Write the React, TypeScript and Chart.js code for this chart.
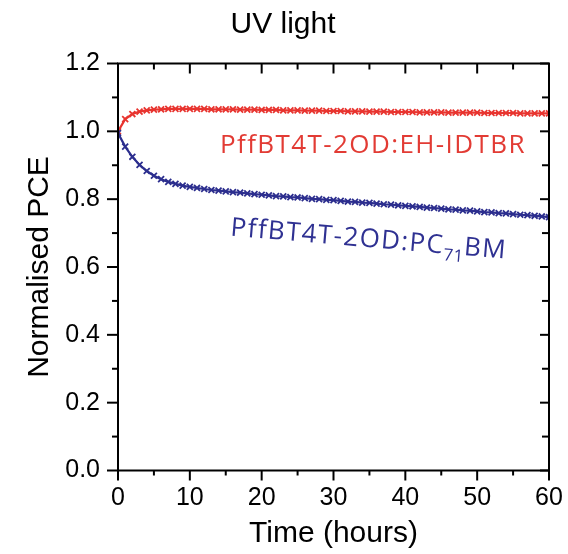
import { useEffect, useRef } from "react";
import { Chart, registerables } from "chart.js";

Chart.register(...registerables);

const chartTitle = "UV light";
const xAxisTitle = "Time (hours)";
const yAxisTitle = "Normalised PCE";

const hours = [
  0, 1, 2, 3, 4, 5, 6, 7, 8, 9, 10, 11, 12, 13, 14, 15, 16, 17, 18, 19, 20,
  21, 22, 23, 24, 25, 26, 27, 28, 29, 30, 31, 32, 33, 34, 35, 36, 37, 38, 39, 40,
  41, 42, 43, 44, 45, 46, 47, 48, 49, 50, 51, 52, 53, 54, 55, 56, 57, 58, 59, 60,
];

const ehIdtbrPce = [
  1.0, 1.036, 1.051, 1.058, 1.062, 1.064, 1.065, 1.066, 1.066, 1.066, 1.066,
  1.066, 1.066, 1.065, 1.065, 1.065, 1.065, 1.064, 1.064, 1.064, 1.063,
  1.063, 1.063, 1.062, 1.062, 1.062, 1.061, 1.061, 1.061, 1.06, 1.06,
  1.06, 1.059, 1.059, 1.059, 1.058, 1.058, 1.058, 1.057, 1.057, 1.057,
  1.057, 1.056, 1.056, 1.056, 1.056, 1.055, 1.055, 1.055, 1.055, 1.055,
  1.054, 1.054, 1.054, 1.054, 1.054, 1.053, 1.053, 1.053, 1.053, 1.053,
];

const pc71bmPce = [
  0.995, 0.955, 0.925, 0.901, 0.883, 0.869, 0.859, 0.851, 0.845, 0.84, 0.836,
  0.833, 0.83, 0.827, 0.825, 0.823, 0.821, 0.819, 0.817, 0.815, 0.813,
  0.811, 0.809, 0.808, 0.806, 0.805, 0.803, 0.801, 0.8, 0.798, 0.797,
  0.795, 0.793, 0.792, 0.79, 0.789, 0.787, 0.785, 0.784, 0.782, 0.78,
  0.779, 0.777, 0.775, 0.774, 0.772, 0.77, 0.769, 0.767, 0.766, 0.764,
  0.762, 0.761, 0.759, 0.758, 0.756, 0.754, 0.753, 0.751, 0.749, 0.747,
];

const xMajorTicks = [0, 10, 20, 30, 40, 50, 60];
const xMinorTicks = [5, 15, 25, 35, 45, 55];
const yMajorTicks = [0, 0.2, 0.4, 0.6, 0.8, 1.0, 1.2];
const yMinorTicks = [0.1, 0.3, 0.5, 0.7, 0.9, 1.1];

const RED = "#e8342f";
const BLUE = "#2c2e8e";
const RED_TEXT = "#e23b34";
const BLUE_TEXT = "#2f3192";

const seriesLabels = [
  { parts: [{ text: "PffBT4T-2OD:EH-IDTBR", sub: false }], x: 14.2, y: 0.936, color: RED_TEXT, angle: 0 },
  {
    parts: [
      { text: "PffBT4T-2OD:PC", sub: false },
      { text: "71", sub: true },
      { text: "BM", sub: false },
    ],
    x: 15.6,
    y: 0.693,
    color: BLUE_TEXT,
    angle: 4.8,
  },
];

const SANS = '"Liberation Sans", Arial, sans-serif';
const LABEL_FONT = '"Open Sans", "Noto Sans", sans-serif';

const framePlugin = {
  id: "frameTicks",
  afterDraw(chart: any) {
    const ctx = chart.ctx;
    const { left, right, top, bottom } = chart.chartArea;
    const xs = chart.scales.x;
    const ys = chart.scales.y;
    ctx.save();
    ctx.strokeStyle = "#000";
    ctx.lineWidth = 2;
    ctx.strokeRect(left, top, right - left, bottom - top);
    const line = (x1: number, y1: number, x2: number, y2: number) => {
      ctx.beginPath();
      ctx.moveTo(x1, y1);
      ctx.lineTo(x2, y2);
      ctx.stroke();
    };
    xMajorTicks.forEach((v) => {
      const p = xs.getPixelForValue(v);
      line(p, bottom, p, bottom + 10);
      line(p, top, p, top + 10);
    });
    xMinorTicks.forEach((v) => {
      const p = xs.getPixelForValue(v);
      line(p, bottom, p, bottom + 5);
      line(p, top, p, top + 6);
    });
    yMajorTicks.forEach((v) => {
      const p = ys.getPixelForValue(v);
      line(left - 11, p, left, p);
      line(right - 9, p, right, p);
    });
    yMinorTicks.forEach((v) => {
      const p = ys.getPixelForValue(v);
      line(left - 6, p, left, p);
      line(right - 7, p, right, p);
    });
    // chart title, centred on the canvas
    ctx.fillStyle = "#000";
    ctx.font = `30px ${SANS}`;
    ctx.textAlign = "center";
    ctx.textBaseline = "alphabetic";
    ctx.fillText(chartTitle, chart.width / 2 - 1, 33);
    ctx.restore();
  },
};

const labelPlugin = {
  id: "seriesLabels",
  afterDatasetsDraw(chart: any) {
    const ctx = chart.ctx;
    const xs = chart.scales.x;
    const ys = chart.scales.y;
    seriesLabels.forEach((lab) => {
      ctx.save();
      ctx.translate(xs.getPixelForValue(lab.x), ys.getPixelForValue(lab.y));
      ctx.rotate((lab.angle * Math.PI) / 180);
      ctx.fillStyle = lab.color;
      ctx.textBaseline = "alphabetic";
      ctx.textAlign = "left";
      let cx = 0;
      lab.parts.forEach((part) => {
        ctx.font = part.sub ? `17px ${LABEL_FONT}` : `26px ${LABEL_FONT}`;
        (ctx as any).letterSpacing = part.sub ? "0.3px" : "1.4px";
        ctx.fillText(part.text, cx, part.sub ? 7 : 0);
        cx += ctx.measureText(part.text).width;
      });
      ctx.restore();
    });
  },
};

export default function App() {
  const canvasRef = useRef<HTMLCanvasElement | null>(null);

  useEffect(() => {
    if (!canvasRef.current) return;
    const makeDataset = (label: string, values: number[], color: string) => ({
      label,
      data: hours.map((h, i) => ({ x: h, y: values[i] })),
      borderColor: color,
      backgroundColor: color,
      borderWidth: 2.2,
      tension: 0,
      pointStyle: "crossRot",
      pointRadius: 4.2,
      pointBorderWidth: 1.8,
      pointBorderColor: color,
    });
    const chart = new Chart(canvasRef.current, {
      type: "line",
      data: {
        datasets: [
          makeDataset("PffBT4T-2OD:PC71BM", pc71bmPce, BLUE),
          makeDataset("PffBT4T-2OD:EH-IDTBR", ehIdtbrPce, RED),
        ],
      },
      options: {
        responsive: true,
        maintainAspectRatio: false,
        animation: false,
        layout: { padding: { top: 63.5, right: 19, bottom: 0, left: 0 } },
        plugins: {
          legend: { display: false },
          tooltip: { enabled: false },
          title: { display: false },
        },
        scales: {
          x: {
            type: "linear",
            min: 0,
            max: 60,
            ticks: {
              stepSize: 10,
              color: "#000",
              font: { family: SANS, size: 25 },
              padding: 0,
              maxRotation: 0,
            },
            grid: { display: false, drawTicks: true, tickLength: 13 },
            border: { display: false },
            title: {
              display: true,
              text: xAxisTitle,
              color: "#000",
              font: { family: SANS, size: 30 },
              padding: { top: 0, bottom: 2 },
            },
            afterFit: (s: any) => {
              s.height = 83.5;
            },
          },
          y: {
            min: 0,
            max: 1.2,
            ticks: {
              stepSize: 0.2,
              color: "#000",
              font: { family: SANS, size: 25 },
              padding: 0,
              callback: (v: any) => Number(v).toFixed(1),
            },
            grid: { display: false, drawTicks: true, tickLength: 18 },
            border: { display: false },
            title: {
              display: true,
              text: yAxisTitle,
              color: "#000",
              font: { family: SANS, size: 30 },
              padding: { top: 22, bottom: 0 },
            },
            afterFit: (s: any) => {
              s.width = 118;
            },
          },
        },
      } as any,
      plugins: [framePlugin, labelPlugin],
    });
    return () => chart.destroy();
  }, []);

  return (
    <div style={{ position: "fixed", left: 0, top: 0, width: 568, height: 554, background: "#fff" }}>
      <canvas ref={canvasRef} />
    </div>
  );
}
